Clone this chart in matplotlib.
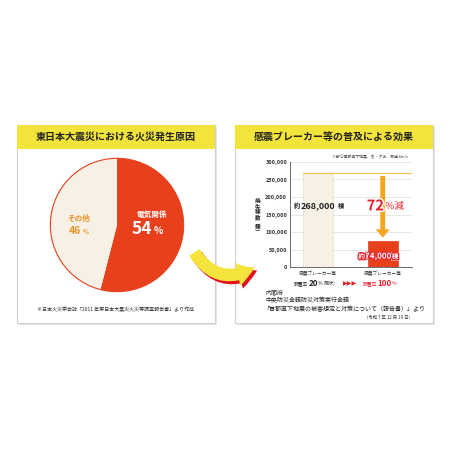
import matplotlib
matplotlib.use("Agg")
import matplotlib.pyplot as plt
import matplotlib.patheffects as pe
from matplotlib.patches import Rectangle, FancyArrowPatch

plt.rcParams["font.family"] = ["Noto Sans CJK JP", "DejaVu Sans"]

# data
pie_labels = ["電気関係", "その他"]
pie_values = [54, 46]
bar_cats = ["感震ブレーカー等", "感震ブレーカー等"]
bar_rates = ["20", "100"]
bar_values = [268000, 74000]
y_ticks = [0, 50000, 100000, 150000, 200000, 250000, 300000]
reduction = 72

RED = "#e8401c"
BEIGE = "#f6f1e4"
YELLOW = "#f2e43a"
ORANGE = "#f3a51f"
TXTRED = "#e5202c"

W = 450
fig = plt.figure(figsize=(4.5, 4.5), dpi=100)
fig.patch.set_facecolor("white")


def px(x, y):
    return x / W, 1 - y / W


def panel(x0, y0, x1, y1, title):
    l, t = px(x0, y0)
    r, b = px(x1, y1)
    fig.add_artist(Rectangle((l + 0.004, b - 0.004), r - l, t - b, transform=fig.transFigure,
                             facecolor="#e6e6e6", edgecolor="none", zorder=-3))
    fig.add_artist(Rectangle((l, b), r - l, t - b, transform=fig.transFigure,
                             facecolor="white", edgecolor="#cfcfcf", lw=0.8, zorder=-2))
    hl, hb = px(x0, y0 + 24)
    fig.add_artist(Rectangle((l, hb), r - l, t - hb, transform=fig.transFigure,
                             facecolor=YELLOW, edgecolor="none", zorder=-1))
    fig.text((l + r) / 2, (t + hb) / 2, title, ha="center", va="center",
             fontsize=7.2, fontweight="bold", color="#222222")


panel(17, 125, 215, 323, "東日本大震災における火災発生原因")
panel(235, 125, 433, 323, "感震ブレーカー等の普及による効果")

# pie
l, t = px(49, 157)
r, b = px(185, 293)
axp = fig.add_axes([l, b, r - l, t - b])
axp.set_zorder(1)
axp.pie(pie_values, colors=[RED, BEIGE], startangle=90, counterclock=False,
        wedgeprops=dict(edgecolor="none"))
axp.add_patch(plt.Circle((0, 0), 1.0, fill=False, edgecolor=RED, lw=0.8))
axp.set_xlim(-1.02, 1.02)
axp.set_ylim(-1.02, 1.02)
axp.text(0.52, 0.12, pie_labels[0], color="white", fontsize=5.5, fontweight="bold", ha="center")
axp.text(0.52, -0.14, f"{pie_values[0]}", color="white", fontsize=12.5, fontweight="bold", ha="right")
axp.text(0.55, -0.14, "%", color="white", fontsize=7, fontweight="bold", ha="left")
axp.text(-0.58, 0.06, pie_labels[1], color="#e8922a", fontsize=5.5, fontweight="bold", ha="center")
axp.text(-0.54, -0.14, f"{pie_values[1]}", color="#e8922a", fontsize=7.5, fontweight="bold", ha="right")
axp.text(-0.52, -0.14, "%", color="#e8922a", fontsize=4.5, fontweight="bold", ha="left")

fig.text(*px(116, 309), "※日本火災学会誌「2011 年東日本大震災火災等調査報告書」より作成",
         fontsize=3.6, ha="center", va="center", color="#333333")

# bar chart
l, t = px(290, 162)
r, b = px(412, 267)
axb = fig.add_axes([l, b, r - l, t - b])
axb.set_zorder(1)
xs = [0, 1]
axb.bar(xs, bar_values, width=0.46, color=[BEIGE, RED],
        edgecolor=["#e6e0cc", RED], lw=0.5, zorder=2)
axb.set_xlim(-0.434, 1.453)
axb.set_ylim(0, 300000)
axb.set_yticks(y_ticks)
axb.set_yticklabels([f"{v:,}" for v in y_ticks], fontsize=4, fontweight="bold", color="#333333")
axb.set_xticks([])
axb.grid(axis="y", color="#dddddd", lw=0.5, zorder=0)
for s in ["top", "right"]:
    axb.spines[s].set_visible(False)
for s in ["left", "bottom"]:
    axb.spines[s].set_color("#555555")
    axb.spines[s].set_linewidth(0.6)
axb.tick_params(axis="y", length=0, pad=2)
axb.set_facecolor("white")

# reference line and arrow
axb.plot([-0.23, 1.453], [bar_values[0], bar_values[0]], color="#f5c24c", lw=0.8, zorder=3)
axb.annotate("", xy=(1, bar_values[1] + 2000), xytext=(1, bar_values[0]),
             arrowprops=dict(arrowstyle="simple,head_width=1.0,head_length=0.6,tail_width=0.35",
                             color=ORANGE, lw=0), zorder=4)

axb.text(-0.28, 176000, "約", fontsize=4.5, fontweight="bold", ha="right", va="center", color="#222", zorder=5)
axb.text(0, 176000, f"{bar_values[0]:,}", fontsize=6.5, fontweight="bold", ha="center",
         va="center", color="#222", zorder=5)
axb.text(0.3, 176000, "棟", fontsize=4.5, fontweight="bold", ha="left", va="center", color="#222", zorder=5)

axb.text(1.02, 176000, f"{reduction}", fontsize=10.5, fontweight="bold", ha="right",
         va="center", color=TXTRED, zorder=5,
         path_effects=[pe.withStroke(linewidth=2, foreground="white")])
axb.text(1.04, 174000, "%減", fontsize=7, ha="left", va="center", color=TXTRED, zorder=5,
         path_effects=[pe.withStroke(linewidth=2, foreground="white")])

stroke = [pe.withStroke(linewidth=1.5, foreground=TXTRED)]
axb.text(0.93, 31000, f"{bar_values[1]:,}", fontsize=5.8, fontweight="bold", ha="center",
         va="center", color="white", zorder=5, path_effects=stroke)
axb.text(0.725, 31000, "約", fontsize=4.8, fontweight="bold", ha="right", va="center",
         color="white", zorder=5, path_effects=stroke,
         bbox=dict(boxstyle="square,pad=0.1", fc=TXTRED, ec="white", lw=0.4))
axb.text(1.14, 31000, "棟", fontsize=4.8, fontweight="bold", ha="left", va="center",
         color="white", zorder=5, path_effects=stroke,
         bbox=dict(boxstyle="square,pad=0.1", fc=TXTRED, ec="white", lw=0.4))

axb.text(0.97, 1.05, "※都心南部直下地震、冬・夕方、風速 8m/s", transform=axb.transAxes,
         fontsize=2.8, ha="right", va="center", color="#444")
fig.text(*px(258, 217), "\n".join("焼失棟数︵棟︶"), fontsize=4, fontweight="bold",
         ha="center", va="center", color="#222", linespacing=1.0)

# category labels below axes
trans = axb.get_xaxis_transform()
rate_pos = [(-0.16, -0.15, -0.01), (-0.09, -0.08, 0.14)]
for x, cat, rate, (p0, p1, p2) in zip(xs, bar_cats, bar_rates, rate_pos):
    axb.text(x, -0.06, cat, transform=trans, fontsize=3.4, ha="center", va="center", color="#333")
    col = "#222" if x == 0 else TXTRED
    axb.text(x + p0, -0.155, "設置率", transform=trans, fontsize=3.4, ha="right",
             va="center", color=col)
    axb.text(x + p1, -0.155, rate, transform=trans, fontsize=5.8, fontweight="bold",
             ha="left", va="center", color=col)
    axb.text(x + p2, -0.16, "%", transform=trans, fontsize=3.6, ha="left",
             va="center", color=col)
    if x == 0:
        axb.text(x + 0.05, -0.155, "（現状）", transform=trans, fontsize=3.2, ha="left",
                 va="center", color="#333")
axb.text(0.5, -0.155, "▶▶▶", transform=trans, fontsize=4.5, ha="center", va="center",
         color=TXTRED, family=["DejaVu Sans"])

fig.text(*px(265, 292), "内閣府", fontsize=4.3, ha="left", va="center", color="#222")
fig.text(*px(265, 300), "中央防災会議防災対策実行会議", fontsize=4.3, ha="left", va="center", color="#222")
fig.text(*px(263, 309), "「首都直下地震の被害想定と対策について（報告書）」より", fontsize=4.3,
         ha="left", va="center", color="#222")
fig.text(*px(413, 317), "（令和 7 年 12 月 19 日）", fontsize=3.2, ha="right", va="center", color="#333")

# curved arrow between panels
for dx, dy, col, z in [(2.5, -3, "#e0141e", 3), (0, 0, "#f4e43c", 4)]:
    a = FancyArrowPatch(px(193 + dx, 250 - dy), px(257 + dx, 266 - dy),
                        transform=fig.transFigure, connectionstyle="arc3,rad=0.5",
                        arrowstyle="simple,head_width=17,head_length=13,tail_width=9",
                        facecolor=col, edgecolor="none", zorder=z)
    fig.add_artist(a)

fig.savefig("out.png", dpi=100)
